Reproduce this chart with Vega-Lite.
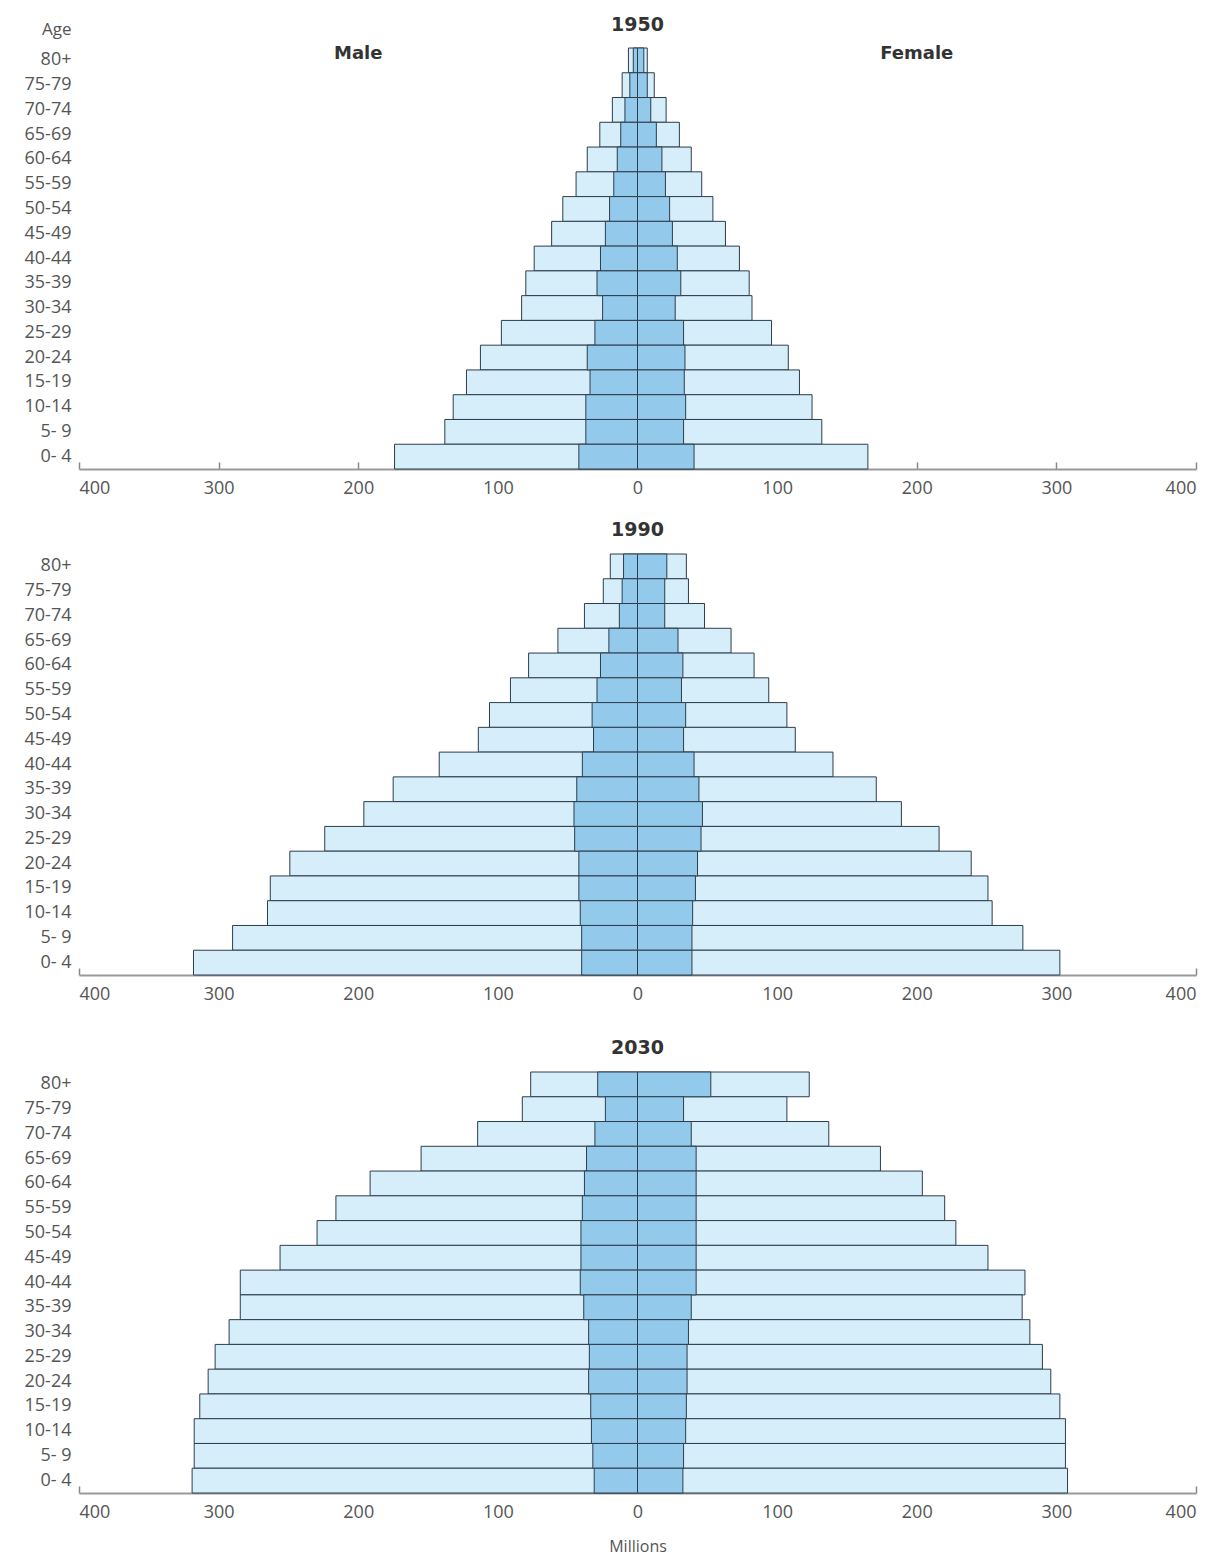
{
  "$schema": "https://vega.github.io/schema/vega-lite/v6.json",
  "background": "white",
  "padding": {"left": 24, "top": 16, "right": 8, "bottom": 3},
  "spacing": 23,
  "config": {
    "view": {"stroke": null},
    "font": "Open Sans",
    "title": {"font": "DejaVu Sans", "fontWeight": "bold", "fontSize": 19, "color": "#333333", "anchor": "middle", "frame": "group", "offset": 14}
  },
  "datasets": {
    "pop": [
      {"year": "1950", "age": "80+", "sex": "Male", "total": -6.5, "inner": -3},
      {"year": "1950", "age": "75-79", "sex": "Male", "total": -11, "inner": -5.5},
      {"year": "1950", "age": "70-74", "sex": "Male", "total": -18, "inner": -9},
      {"year": "1950", "age": "65-69", "sex": "Male", "total": -27, "inner": -12},
      {"year": "1950", "age": "60-64", "sex": "Male", "total": -36, "inner": -14.5},
      {"year": "1950", "age": "55-59", "sex": "Male", "total": -44, "inner": -17},
      {"year": "1950", "age": "50-54", "sex": "Male", "total": -53.5, "inner": -20},
      {"year": "1950", "age": "45-49", "sex": "Male", "total": -61.5, "inner": -23},
      {"year": "1950", "age": "40-44", "sex": "Male", "total": -74, "inner": -26.5},
      {"year": "1950", "age": "35-39", "sex": "Male", "total": -80, "inner": -29},
      {"year": "1950", "age": "30-34", "sex": "Male", "total": -83, "inner": -25},
      {"year": "1950", "age": "25-29", "sex": "Male", "total": -97.5, "inner": -30.5},
      {"year": "1950", "age": "20-24", "sex": "Male", "total": -112.5, "inner": -36},
      {"year": "1950", "age": "15-19", "sex": "Male", "total": -122.5, "inner": -34},
      {"year": "1950", "age": "10-14", "sex": "Male", "total": -132, "inner": -37},
      {"year": "1950", "age": "5- 9", "sex": "Male", "total": -138, "inner": -37},
      {"year": "1950", "age": "0- 4", "sex": "Male", "total": -174, "inner": -42},
      {"year": "1950", "age": "80+", "sex": "Female", "total": 7, "inner": 4.5},
      {"year": "1950", "age": "75-79", "sex": "Female", "total": 12, "inner": 7},
      {"year": "1950", "age": "70-74", "sex": "Female", "total": 20.5, "inner": 9.5},
      {"year": "1950", "age": "65-69", "sex": "Female", "total": 30, "inner": 13.5},
      {"year": "1950", "age": "60-64", "sex": "Female", "total": 38.5, "inner": 17.5},
      {"year": "1950", "age": "55-59", "sex": "Female", "total": 46, "inner": 20},
      {"year": "1950", "age": "50-54", "sex": "Female", "total": 54, "inner": 23},
      {"year": "1950", "age": "45-49", "sex": "Female", "total": 63, "inner": 25},
      {"year": "1950", "age": "40-44", "sex": "Female", "total": 73, "inner": 28.5},
      {"year": "1950", "age": "35-39", "sex": "Female", "total": 80, "inner": 31},
      {"year": "1950", "age": "30-34", "sex": "Female", "total": 82, "inner": 27},
      {"year": "1950", "age": "25-29", "sex": "Female", "total": 96, "inner": 33},
      {"year": "1950", "age": "20-24", "sex": "Female", "total": 108, "inner": 34},
      {"year": "1950", "age": "15-19", "sex": "Female", "total": 116, "inner": 33.5},
      {"year": "1950", "age": "10-14", "sex": "Female", "total": 125, "inner": 34.5},
      {"year": "1950", "age": "5- 9", "sex": "Female", "total": 132, "inner": 33},
      {"year": "1950", "age": "0- 4", "sex": "Female", "total": 165, "inner": 40.5},

      {"year": "1990", "age": "80+", "sex": "Male", "total": -19.5, "inner": -10},
      {"year": "1990", "age": "75-79", "sex": "Male", "total": -24.5, "inner": -11},
      {"year": "1990", "age": "70-74", "sex": "Male", "total": -38, "inner": -13},
      {"year": "1990", "age": "65-69", "sex": "Male", "total": -57, "inner": -20.5},
      {"year": "1990", "age": "60-64", "sex": "Male", "total": -78, "inner": -26.5},
      {"year": "1990", "age": "55-59", "sex": "Male", "total": -91, "inner": -29},
      {"year": "1990", "age": "50-54", "sex": "Male", "total": -106, "inner": -32.5},
      {"year": "1990", "age": "45-49", "sex": "Male", "total": -114, "inner": -31.5},
      {"year": "1990", "age": "40-44", "sex": "Male", "total": -142, "inner": -39.5},
      {"year": "1990", "age": "35-39", "sex": "Male", "total": -175, "inner": -43.5},
      {"year": "1990", "age": "30-34", "sex": "Male", "total": -196, "inner": -45.5},
      {"year": "1990", "age": "25-29", "sex": "Male", "total": -224, "inner": -45},
      {"year": "1990", "age": "20-24", "sex": "Male", "total": -249, "inner": -42},
      {"year": "1990", "age": "15-19", "sex": "Male", "total": -263, "inner": -42},
      {"year": "1990", "age": "10-14", "sex": "Male", "total": -265, "inner": -41},
      {"year": "1990", "age": "5- 9", "sex": "Male", "total": -290, "inner": -40},
      {"year": "1990", "age": "0- 4", "sex": "Male", "total": -318, "inner": -40},
      {"year": "1990", "age": "80+", "sex": "Female", "total": 35, "inner": 21},
      {"year": "1990", "age": "75-79", "sex": "Female", "total": 36.5, "inner": 19.5},
      {"year": "1990", "age": "70-74", "sex": "Female", "total": 48, "inner": 19.5},
      {"year": "1990", "age": "65-69", "sex": "Female", "total": 67, "inner": 29},
      {"year": "1990", "age": "60-64", "sex": "Female", "total": 83.5, "inner": 32.5},
      {"year": "1990", "age": "55-59", "sex": "Female", "total": 94, "inner": 31.5},
      {"year": "1990", "age": "50-54", "sex": "Female", "total": 107, "inner": 34.5},
      {"year": "1990", "age": "45-49", "sex": "Female", "total": 113, "inner": 33},
      {"year": "1990", "age": "40-44", "sex": "Female", "total": 140, "inner": 40.5},
      {"year": "1990", "age": "35-39", "sex": "Female", "total": 171, "inner": 44},
      {"year": "1990", "age": "30-34", "sex": "Female", "total": 189, "inner": 46.5},
      {"year": "1990", "age": "25-29", "sex": "Female", "total": 216, "inner": 45.5},
      {"year": "1990", "age": "20-24", "sex": "Female", "total": 239, "inner": 43},
      {"year": "1990", "age": "15-19", "sex": "Female", "total": 251, "inner": 41.5},
      {"year": "1990", "age": "10-14", "sex": "Female", "total": 254, "inner": 39.5},
      {"year": "1990", "age": "5- 9", "sex": "Female", "total": 276, "inner": 39},
      {"year": "1990", "age": "0- 4", "sex": "Female", "total": 302.5, "inner": 39},

      {"year": "2030", "age": "80+", "sex": "Male", "total": -76.5, "inner": -28.5},
      {"year": "2030", "age": "75-79", "sex": "Male", "total": -82.5, "inner": -23},
      {"year": "2030", "age": "70-74", "sex": "Male", "total": -114.5, "inner": -30.5},
      {"year": "2030", "age": "65-69", "sex": "Male", "total": -155, "inner": -36.5},
      {"year": "2030", "age": "60-64", "sex": "Male", "total": -191.5, "inner": -38},
      {"year": "2030", "age": "55-59", "sex": "Male", "total": -216, "inner": -39.5},
      {"year": "2030", "age": "50-54", "sex": "Male", "total": -229.5, "inner": -40.5},
      {"year": "2030", "age": "45-49", "sex": "Male", "total": -256, "inner": -40.5},
      {"year": "2030", "age": "40-44", "sex": "Male", "total": -284.5, "inner": -41},
      {"year": "2030", "age": "35-39", "sex": "Male", "total": -284.5, "inner": -38.5},
      {"year": "2030", "age": "30-34", "sex": "Male", "total": -292.5, "inner": -35},
      {"year": "2030", "age": "25-29", "sex": "Male", "total": -302.5, "inner": -34.5},
      {"year": "2030", "age": "20-24", "sex": "Male", "total": -307.5, "inner": -35},
      {"year": "2030", "age": "15-19", "sex": "Male", "total": -313.5, "inner": -33.5},
      {"year": "2030", "age": "10-14", "sex": "Male", "total": -317.5, "inner": -33},
      {"year": "2030", "age": "5- 9", "sex": "Male", "total": -317.5, "inner": -32},
      {"year": "2030", "age": "0- 4", "sex": "Male", "total": -319, "inner": -31},
      {"year": "2030", "age": "80+", "sex": "Female", "total": 123, "inner": 52.5},
      {"year": "2030", "age": "75-79", "sex": "Female", "total": 107, "inner": 33},
      {"year": "2030", "age": "70-74", "sex": "Female", "total": 137, "inner": 38.5},
      {"year": "2030", "age": "65-69", "sex": "Female", "total": 174, "inner": 42},
      {"year": "2030", "age": "60-64", "sex": "Female", "total": 204, "inner": 42},
      {"year": "2030", "age": "55-59", "sex": "Female", "total": 220, "inner": 42},
      {"year": "2030", "age": "50-54", "sex": "Female", "total": 228, "inner": 42},
      {"year": "2030", "age": "45-49", "sex": "Female", "total": 251, "inner": 42},
      {"year": "2030", "age": "40-44", "sex": "Female", "total": 277.5, "inner": 42},
      {"year": "2030", "age": "35-39", "sex": "Female", "total": 275.5, "inner": 38.5},
      {"year": "2030", "age": "30-34", "sex": "Female", "total": 281, "inner": 36.5},
      {"year": "2030", "age": "25-29", "sex": "Female", "total": 290, "inner": 35.5},
      {"year": "2030", "age": "20-24", "sex": "Female", "total": 296, "inner": 35.5},
      {"year": "2030", "age": "15-19", "sex": "Female", "total": 302.5, "inner": 35},
      {"year": "2030", "age": "10-14", "sex": "Female", "total": 306.5, "inner": 34.5},
      {"year": "2030", "age": "5- 9", "sex": "Female", "total": 306.5, "inner": 33},
      {"year": "2030", "age": "0- 4", "sex": "Female", "total": 308, "inner": 32.5}
    ]
  },
  "vconcat": [
    {
      "width": 1117,
      "height": 421,
      "title": {"text": "1950", "offset": -15},
      "data": {"name": "pop"},
      "transform": [{"filter": "datum.year == '1950'"}],
      "encoding": {
        "y": {
          "field": "age", "type": "nominal",
          "sort": ["80+", "75-79", "70-74", "65-69", "60-64", "55-59", "50-54", "45-49", "40-44", "35-39", "30-34", "25-29", "20-24", "15-19", "10-14", "5- 9", "0- 4"],
          "scale": {"paddingInner": 0, "paddingOuter": 0},
          "axis": {"title": "Age", "domain": false, "ticks": false, "labelPadding": 8, "labelFontSize": 18, "labelColor": "#555555", "titleAngle": 0, "titleAlign": "right", "titleX": -8, "titleY": -14, "titleBaseline": "alphabetic", "titleFontWeight": "normal", "titleFontSize": 17, "titleColor": "#555555", "titleFont": "Open Sans"}
        }
      },
      "layer": [
        {
          "mark": {"type": "bar", "fill": "#d5eef9", "stroke": "#2e3d4d", "strokeWidth": 1},
          "encoding": {
            "x": {"field": "total", "type": "quantitative", "scale": {"domain": [-400, 400], "nice": false},
              "axis": {"title": null, "values": [-400, -300, -200, -100, 0, 100, 200, 300, 400], "labelExpr": "'' + abs(datum.value)", "grid": false, "tickSize": -7, "tickColor": "#888888", "tickWidth": 1.5, "domainColor": "#999999", "domainWidth": 2, "labelColor": "#555555", "labelFontSize": 18, "labelPadding": 17}}
          }
        },
        {
          "mark": {"type": "bar", "fill": "#93c9ea", "stroke": "#2e3d4d", "strokeWidth": 1},
          "encoding": {"x": {"field": "inner", "type": "quantitative"}}
        },
        {
          "data": {"values": [{}]},
          "mark": {"type": "text", "font": "DejaVu Sans", "fontWeight": "bold", "fontSize": 18, "color": "#333333", "dy": -6},
          "encoding": {"x": {"datum": -200, "type": "quantitative"}, "y": {"datum": "80+", "type": "nominal"}, "text": {"value": "Male"}}
        },
        {
          "data": {"values": [{}]},
          "mark": {"type": "text", "font": "DejaVu Sans", "fontWeight": "bold", "fontSize": 18, "color": "#333333", "dy": -6},
          "encoding": {"x": {"datum": 200, "type": "quantitative"}, "y": {"datum": "80+", "type": "nominal"}, "text": {"value": "Female"}}
        }
      ]
    },
    {
      "width": 1117,
      "height": 421,
      "title": {"text": "1990"},
      "data": {"name": "pop"},
      "transform": [{"filter": "datum.year == '1990'"}],
      "encoding": {
        "y": {
          "field": "age", "type": "nominal",
          "sort": ["80+", "75-79", "70-74", "65-69", "60-64", "55-59", "50-54", "45-49", "40-44", "35-39", "30-34", "25-29", "20-24", "15-19", "10-14", "5- 9", "0- 4"],
          "scale": {"paddingInner": 0, "paddingOuter": 0},
          "axis": {"title": null, "domain": false, "ticks": false, "labelPadding": 8, "labelFontSize": 18, "labelColor": "#555555"}
        }
      },
      "layer": [
        {
          "mark": {"type": "bar", "fill": "#d5eef9", "stroke": "#2e3d4d", "strokeWidth": 1},
          "encoding": {
            "x": {"field": "total", "type": "quantitative", "scale": {"domain": [-400, 400], "nice": false},
              "axis": {"title": " ", "titleFontSize": 2, "titlePadding": 10, "values": [-400, -300, -200, -100, 0, 100, 200, 300, 400], "labelExpr": "'' + abs(datum.value)", "grid": false, "tickSize": -7, "tickColor": "#888888", "tickWidth": 1.5, "domainColor": "#999999", "domainWidth": 2, "labelColor": "#555555", "labelFontSize": 18, "labelPadding": 17}}
          }
        },
        {
          "mark": {"type": "bar", "fill": "#93c9ea", "stroke": "#2e3d4d", "strokeWidth": 1},
          "encoding": {"x": {"field": "inner", "type": "quantitative"}}
        }
      ]
    },
    {
      "width": 1117,
      "height": 421,
      "title": {"text": "2030"},
      "data": {"name": "pop"},
      "transform": [{"filter": "datum.year == '2030'"}],
      "encoding": {
        "y": {
          "field": "age", "type": "nominal",
          "sort": ["80+", "75-79", "70-74", "65-69", "60-64", "55-59", "50-54", "45-49", "40-44", "35-39", "30-34", "25-29", "20-24", "15-19", "10-14", "5- 9", "0- 4"],
          "scale": {"paddingInner": 0, "paddingOuter": 0},
          "axis": {"title": null, "domain": false, "ticks": false, "labelPadding": 8, "labelFontSize": 18, "labelColor": "#555555"}
        }
      },
      "layer": [
        {
          "mark": {"type": "bar", "fill": "#d5eef9", "stroke": "#2e3d4d", "strokeWidth": 1},
          "encoding": {
            "x": {"field": "total", "type": "quantitative", "scale": {"domain": [-400, 400], "nice": false},
              "axis": {"title": "Millions", "titleFontWeight": "normal", "titleFontSize": 16, "titleColor": "#555555", "titlePadding": 17, "values": [-400, -300, -200, -100, 0, 100, 200, 300, 400], "labelExpr": "'' + abs(datum.value)", "grid": false, "tickSize": -7, "tickColor": "#888888", "tickWidth": 1.5, "domainColor": "#999999", "domainWidth": 2, "labelColor": "#555555", "labelFontSize": 18, "labelPadding": 17}}
          }
        },
        {
          "mark": {"type": "bar", "fill": "#93c9ea", "stroke": "#2e3d4d", "strokeWidth": 1},
          "encoding": {"x": {"field": "inner", "type": "quantitative"}}
        }
      ]
    }
  ]
}
